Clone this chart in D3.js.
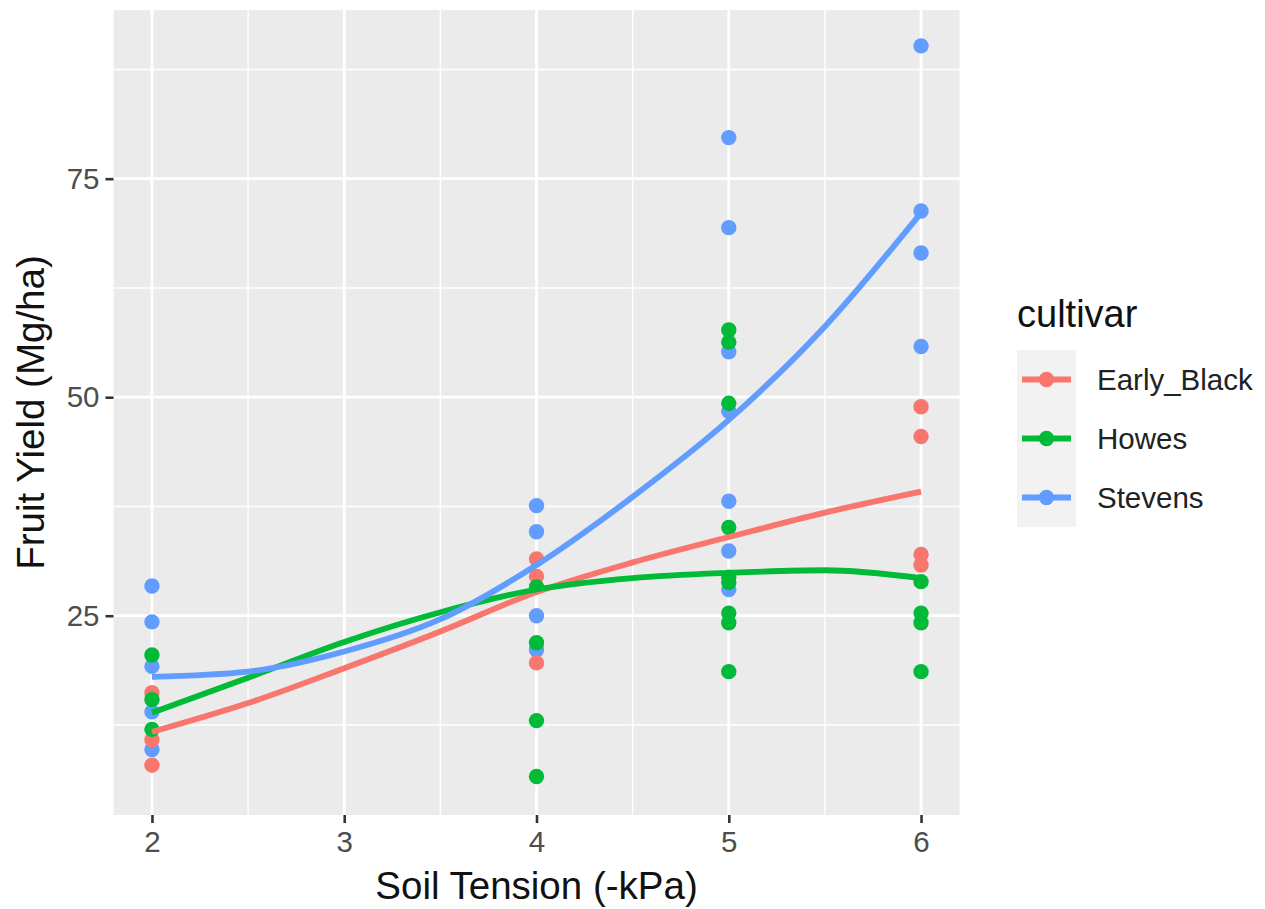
<!DOCTYPE html>
<html>

<head>
    <meta charset="utf-8" />
    <title>Fruit yield vs soil tension</title>
    <script src="https://d3js.org/d3.v7.min.js"></script>
</head>

<body style="margin:0; background:#fff;">
    <style>
        text {
            font-family: "Liberation Sans", Arial, Helvetica, sans-serif;
        }
    </style>

    <div class="chart"></div>

    <script>
        // categories and their colours (ggplot default hues)
        const cultivars = ["Early_Black", "Howes", "Stevens"];
        const colors = ["#F8766D", "#00BA38", "#619CFF"];

        // raw points: soil tension and fruit yield
        const earlyTension = [2, 2, 2, 4, 4, 4, 6, 6, 6, 6];
        const earlyYield = [16.2, 10.8, 7.9, 31.5, 29.5, 19.6, 48.9, 45.5, 32.0, 30.8];

        const howesTension = [2, 2, 2, 4, 4, 4, 4, 5, 5, 5, 5, 5, 5, 5, 5, 5, 6, 6, 6, 6];
        const howesYield = [20.5, 15.4, 12.0, 28.3, 21.9, 13.0, 6.6, 57.7, 56.3, 49.3, 35.1, 29.4, 28.8, 25.3, 24.2, 18.6, 28.9, 25.3, 24.2, 18.6];

        const stevensTension = [2, 2, 2, 2, 2, 4, 4, 4, 4, 5, 5, 5, 5, 5, 5, 5, 6, 6, 6, 6];
        const stevensYield = [28.4, 24.3, 19.2, 14.0, 9.7, 37.6, 34.6, 25.0, 21.1, 79.7, 69.4, 55.2, 48.4, 38.1, 32.4, 28.0, 90.2, 71.3, 66.5, 55.8];

        // smoothed curves at these tensions
        const smoothTension = [2, 2.5, 3, 3.5, 4, 4.5, 5, 5.5, 6];
        const smoothEarly = [11.7, 15.0, 19.0, 23.2, 27.7, 31.1, 34.0, 36.8, 39.2];
        const smoothHowes = [13.9, 17.9, 22.0, 25.4, 28.0, 29.3, 29.9, 30.2, 29.3];
        const smoothStevens = [18.0, 18.6, 20.9, 24.6, 30.8, 38.6, 47.4, 58.1, 71.1];

        // axis ticks
        const xTicks = [2, 3, 4, 5, 6];
        const xMinor = [2.5, 3.5, 4.5, 5.5];
        const yTicks = [25, 50, 75];
        const yMinor = [12.5, 37.5, 62.5, 87.5];

        // general sizes
        const w = 1265;
        const h = 909;
        const panel = { left: 113.5, right: 959.5, top: 10, bottom: 815 };

        let svg = d3.select('.chart')
            .append('svg')
            .attr('width', w)
            .attr('height', h);

        let x = d3.scaleLinear().domain([1.8, 6.2]).range([panel.left, panel.right]);
        let y = d3.scaleLinear().domain([2.2, 94.3]).range([panel.bottom, panel.top]);

        // grey panel
        svg.append('rect')
            .attr('x', panel.left)
            .attr('y', panel.top)
            .attr('width', panel.right - panel.left)
            .attr('height', panel.bottom - panel.top)
            .attr('fill', '#EBEBEB');

        // grid lines, minor first then major
        let grid = svg.append('g');
        grid.selectAll('.ymin').data(yMinor).enter().append('line')
            .attr('x1', panel.left).attr('x2', panel.right)
            .attr('y1', d => y(d)).attr('y2', d => y(d))
            .attr('stroke', '#fff').attr('stroke-width', 1.4);
        grid.selectAll('.xmin').data(xMinor).enter().append('line')
            .attr('y1', panel.top).attr('y2', panel.bottom)
            .attr('x1', d => x(d)).attr('x2', d => x(d))
            .attr('stroke', '#fff').attr('stroke-width', 1.4);
        grid.selectAll('.ymaj').data(yTicks).enter().append('line')
            .attr('x1', panel.left).attr('x2', panel.right)
            .attr('y1', d => y(d)).attr('y2', d => y(d))
            .attr('stroke', '#fff').attr('stroke-width', 2.8);
        grid.selectAll('.xmaj').data(xTicks).enter().append('line')
            .attr('y1', panel.top).attr('y2', panel.bottom)
            .attr('x1', d => x(d)).attr('x2', d => x(d))
            .attr('stroke', '#fff').attr('stroke-width', 2.8);

        // axes
        let xAxis = d3.axisBottom(x).tickValues(xTicks).tickSize(8).tickPadding(8).tickFormat(d3.format('d'));
        let yAxis = d3.axisLeft(y).tickValues(yTicks).tickSize(8).tickPadding(6);

        let gx = svg.append('g').attr('transform', `translate(0,${panel.bottom})`).call(xAxis);
        let gy = svg.append('g').attr('transform', `translate(${panel.left},0)`).call(yAxis);
        [gx, gy].forEach(g => {
            g.select('.domain').remove();
            g.selectAll('line').attr('stroke', '#333333').attr('stroke-width', 2.6);
            g.selectAll('text')
                .attr('fill', '#4D4D4D')
                .style('font-size', '29.5px')
                .style('font-family', '"Liberation Sans", Arial, sans-serif');
        });

        // points, drawn in the layering seen in the picture
        let pointSets = [
            { t: stevensTension, v: stevensYield, c: colors[2] },
            { t: earlyTension, v: earlyYield, c: colors[0] },
            { t: howesTension, v: howesYield, c: colors[1] }
        ];
        pointSets.forEach(s => {
            svg.append('g').selectAll('circle')
                .data(d3.range(s.t.length))
                .enter()
                .append('circle')
                .attr('cx', i => x(s.t[i]))
                .attr('cy', i => y(s.v[i]))
                .attr('r', 7.7)
                .attr('fill', s.c);
        });

        // smoothed lines
        let line = d3.line()
            .x((d, i) => x(smoothTension[i]))
            .y(d => y(d))
            .curve(d3.curveMonotoneX);

        [smoothEarly, smoothHowes, smoothStevens].forEach((vals, k) => {
            svg.append('path')
                .attr('d', line(vals))
                .attr('fill', 'none')
                .attr('stroke', colors[k])
                .attr('stroke-width', 5.8)
                .attr('stroke-linecap', 'butt');
        });

        // axis titles
        svg.append('text')
            .attr('x', (panel.left + panel.right) / 2)
            .attr('y', 899)
            .attr('text-anchor', 'middle')
            .attr('fill', '#111')
            .style('font-size', '38.5px')
            .text('Soil Tension (-kPa)');

        svg.append('text')
            .attr('transform', `translate(44,${(panel.top + panel.bottom) / 2}) rotate(-90)`)
            .attr('text-anchor', 'middle')
            .attr('fill', '#111')
            .style('font-size', '38.5px')
            .text('Fruit Yield (Mg/ha)');

        // legend
        let legend = svg.append('g').attr('transform', 'translate(1017,0)');
        legend.append('text')
            .attr('x', 0)
            .attr('y', 327)
            .attr('fill', '#111')
            .style('font-size', '38px')
            .text('cultivar');

        const keySize = 59;
        let keys = legend.selectAll('.key')
            .data(cultivars)
            .enter()
            .append('g')
            .attr('transform', (d, i) => `translate(0,${350 + i * keySize})`);

        keys.append('rect')
            .attr('width', keySize)
            .attr('height', keySize)
            .attr('fill', '#F2F2F2');
        keys.append('line')
            .attr('x1', 5).attr('x2', keySize - 5)
            .attr('y1', keySize / 2).attr('y2', keySize / 2)
            .attr('stroke', (d, i) => colors[i])
            .attr('stroke-width', 5.8);
        keys.append('circle')
            .attr('cx', keySize / 2)
            .attr('cy', keySize / 2)
            .attr('r', 7.7)
            .attr('fill', (d, i) => colors[i]);
        keys.append('text')
            .attr('x', 80)
            .attr('y', keySize / 2)
            .attr('dy', '0.35em')
            .attr('fill', '#222')
            .style('font-size', '29.5px')
            .text(d => d);

    </script>

</body>

</html>
